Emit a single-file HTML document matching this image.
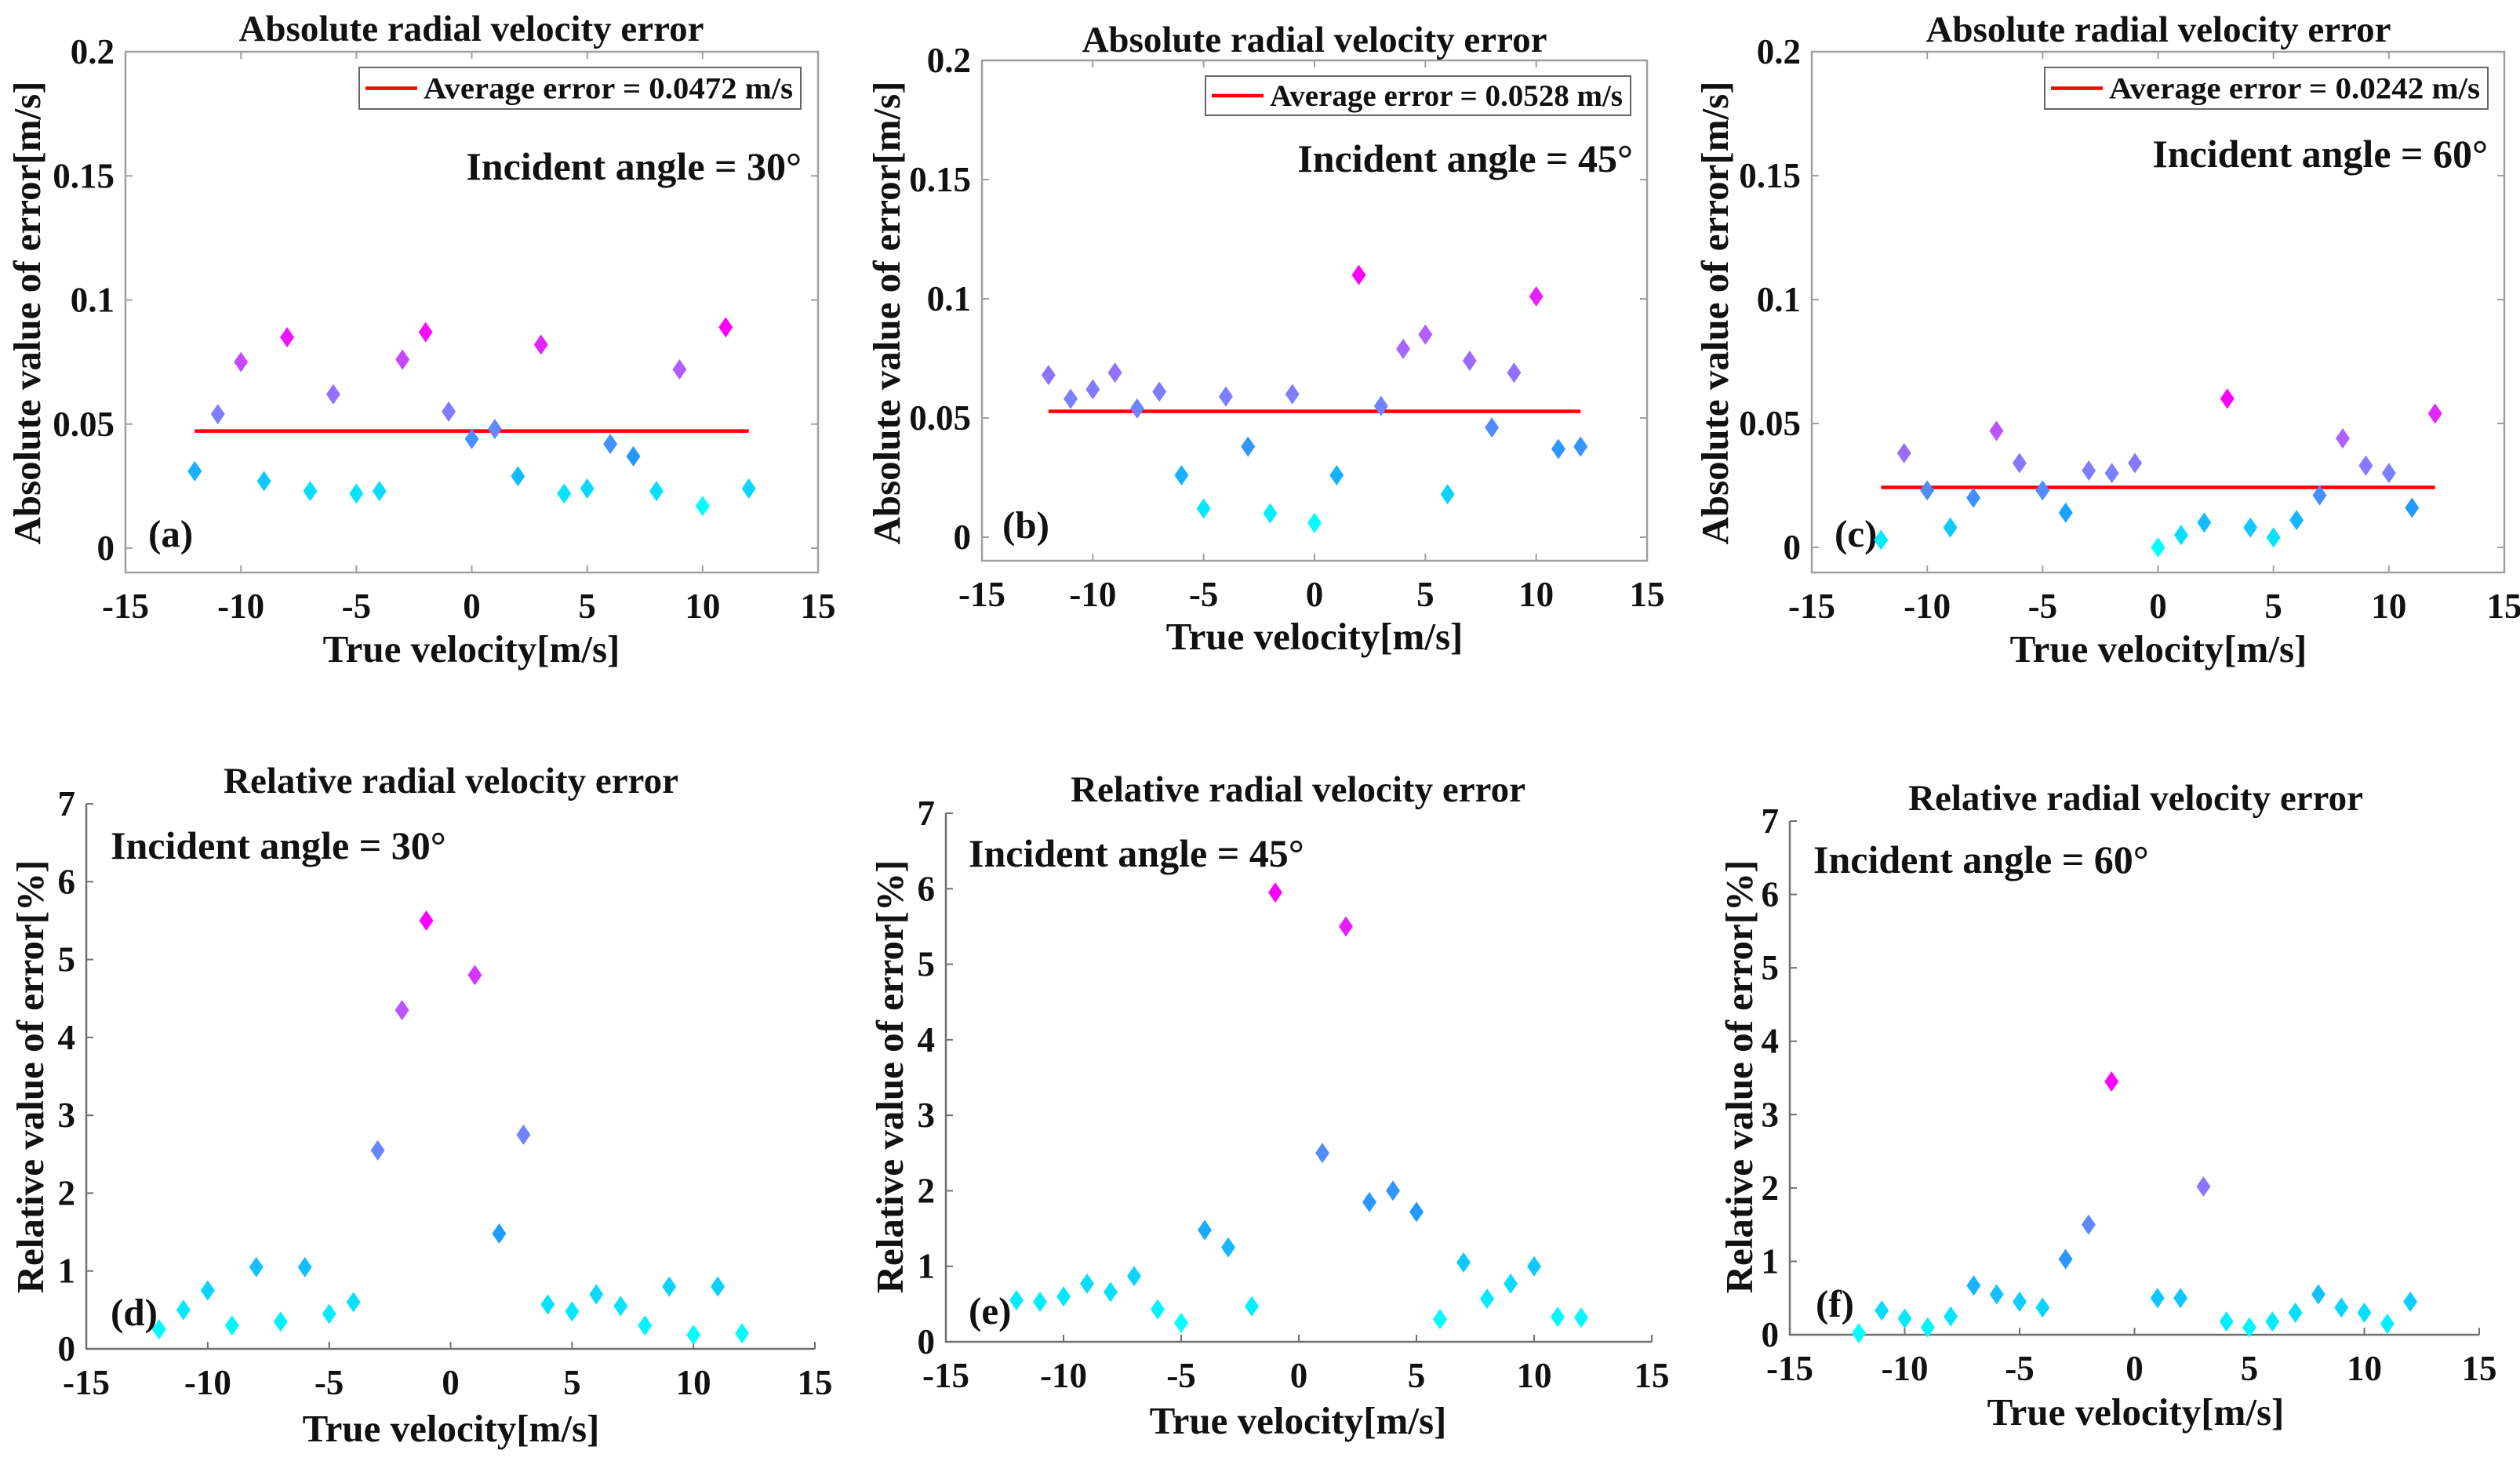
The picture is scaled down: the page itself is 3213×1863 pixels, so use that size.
<!DOCTYPE html>
<html><head><meta charset="utf-8">
<style>
html,body{margin:0;padding:0;background:#fff;}
svg{display:block;}
svg text{font-family:"Liberation Serif","DejaVu Serif",serif;font-weight:bold;}
</style></head>
<body>
<svg id="fig" width="3213" height="1863" viewBox="0 0 3213 1863" xmlns="http://www.w3.org/2000/svg"></svg>
<script>
const velocities = [-12,-11,-10,-9,-8,-7,-6,-5,-4,-3,-2,-1,0,1,2,3,4,5,6,7,8,9,10,11,12];
const velocitiesNoZero = [-12,-11,-10,-9,-8,-7,-6,-5,-4,-3,-2,-1,1,2,3,4,5,6,7,8,9,10,11,12];
const absErr30 = [0.031,0.054,0.075,0.027,0.085,0.023,0.062,0.022,0.023,0.076,0.087,0.055,0.044,0.048,0.029,0.082,0.022,0.024,0.042,0.037,0.023,0.072,0.017,0.089,0.024];
const absErr45 = [0.068,0.058,0.062,0.069,0.054,0.061,0.026,0.012,0.059,0.038,0.010,0.060,0.006,0.026,0.110,0.055,0.079,0.085,0.018,0.074,0.046,0.069,0.101,0.037,0.038];
const absErr60 = [0.003,0.038,0.023,0.008,0.020,0.047,0.034,0.023,0.014,0.031,0.030,0.034,0.000,0.005,0.010,0.060,0.008,0.004,0.011,0.021,0.044,0.033,0.030,0.016,0.054];
const avgErr = [0.0472,0.0528,0.0242];
const relErr30 = [0.25,0.5,0.75,0.3,1.05,0.35,1.05,0.45,0.6,2.55,4.35,5.5,4.8,1.48,2.75,0.57,0.48,0.7,0.55,0.3,0.8,0.18,0.8,0.2];
const relErr45 = [0.55,0.53,0.6,0.77,0.66,0.87,0.43,0.25,1.48,1.25,0.47,5.95,2.5,5.5,1.85,2.0,1.72,0.3,1.05,0.57,0.77,1.0,0.33,0.32];
const relErr60 = [0.02,0.33,0.22,0.1,0.25,0.67,0.55,0.45,0.37,1.03,1.5,3.45,0.5,0.5,2.02,0.18,0.1,0.18,0.3,0.55,0.37,0.3,0.15,0.45];
const xTicks = [-15,-10,-5,0,5,10,15];
const absYTicks = [0,0.05,0.1,0.15,0.2];
const absYLabels = ["0","0.05","0.1","0.15","0.2"];
const relYTicks = [0,1,2,3,4,5,6,7];
const angles = ["30","45","60"];

const NS = "http://www.w3.org/2000/svg";
const FF = "'Liberation Serif', 'DejaVu Serif', serif";
const svg = document.getElementById("fig");
function mk(tag, attrs, parent, text){
  const e = document.createElementNS(NS, tag);
  for (const k in attrs) e.setAttribute(k, attrs[k]);
  if (tag === "text") { e.setAttribute("font-family", FF); e.setAttribute("font-weight","bold"); }
  if (text !== undefined) e.textContent = text;
  (parent||svg).appendChild(e);
  return e;
}
function lerp(a,b,t){return a+(b-a)*t;}
const stops=[[0,[0,255,255]],[0.25,[30,155,255]],[0.5,[122,128,255]],[0.75,[176,96,255]],[1,[255,0,255]]];
function colorFor(t){
  t=Math.max(0,Math.min(1,t));
  for(let i=1;i<stops.length;i++){
    if(t<=stops[i][0]){
      const u=(t-stops[i-1][0])/(stops[i][0]-stops[i-1][0]);
      const a=stops[i-1][1],b=stops[i][1];
      return `rgb(${Math.round(lerp(a[0],b[0],u))},${Math.round(lerp(a[1],b[1],u))},${Math.round(lerp(a[2],b[2],u))})`;
    }
  }
  return "rgb(255,0,255)";
}

const panels = [
 {id:"a",type:"abs",xs:velocities,ys:absErr30,avg:avgErr[0],angle:angles[0],x0:160,x1:1043,yZ:699,yT:66,ymax:0.2,boxTop:66,boxBot:730,
  title:[601,36],xl:[601,828],yl:[34,399],leg:[458,86,1021,139],inc:[1022,212],tag:[189,680]},
 {id:"b",type:"abs",xs:velocities,ys:absErr45,avg:avgErr[1],angle:angles[1],x0:1252,x1:2100,yZ:685,yT:77,ymax:0.2,boxTop:77,boxBot:715,
  title:[1676,50],xl:[1676,812],yl:[1130,399],leg:[1537,97,2079,147],inc:[2082,202],tag:[1278,669]},
 {id:"c",type:"abs",xs:velocities,ys:absErr60,avg:avgErr[2],angle:angles[2],x0:2310,x1:3193,yZ:698,yT:66,ymax:0.2,boxTop:66,boxBot:730,
  title:[2752,37],xl:[2752,828],yl:[2186,399],leg:[2607,86,3172,139],inc:[3172,196],tag:[2339,680]},
 {id:"d",type:"rel",xs:velocitiesNoZero,ys:relErr30,angle:angles[0],x0:110,x1:1039,yZ:1720,yT:1025,ymax:7,
  title:[575,995],xl:[575,1822],yl:[38,1373],inc:[141,1078],tag:[141,1673]},
 {id:"e",type:"rel",xs:velocitiesNoZero,ys:relErr45,angle:angles[1],x0:1206,x1:2106,yZ:1711,yT:1037,ymax:7,
  title:[1655,1006],xl:[1655,1812],yl:[1134,1373],inc:[1235,1088],tag:[1235,1671]},
 {id:"f",type:"rel",xs:velocitiesNoZero,ys:relErr60,angle:angles[2],x0:2282,x1:3161,yZ:1702,yT:1047,ymax:7,
  title:[2723,1017],xl:[2723,1801],yl:[2217,1373],inc:[2312,1096],tag:[2315,1662]}
];

panels.forEach(p=>{
  const g = mk("g",{});
  
  
  const sx = v => p.x0 + (v+15)/30*(p.x1-p.x0);
  const sy = v => p.yZ - v/p.ymax*(p.yZ-p.yT);
  const isAbs = p.type==="abs";
  const axCol = isAbs ? "#a0a0a0" : "#707070";
  const bottom = isAbs ? p.boxBot : p.yZ;
  const top = isAbs ? p.boxTop : p.yT;
  if(isAbs){
    const box = mk("rect",{x:p.x0,y:top,width:p.x1-p.x0,height:bottom-top,fill:"none",stroke:axCol,"stroke-width":2.5},g);
    
    
  } else {
    const ax = mk("path",{d:`M${p.x0},${top}V${bottom}H${p.x1}`,fill:"none",stroke:axCol,"stroke-width":2.5},g);
    
    
  }
  xTicks.forEach(t=>{
    const x=sx(t);
    mk("line",{x1:x,y1:bottom,x2:x,y2:bottom-9,stroke:axCol,"stroke-width":2},g);
    if(isAbs) mk("line",{x1:x,y1:top,x2:x,y2:top+9,stroke:axCol,"stroke-width":2},g);
    const lb = mk("text",{x:x,y:bottom+58,"font-size":45,"text-anchor":"middle",fill:"#111"},g,String(t));
    
    
  });
  const yt = isAbs ? absYTicks : relYTicks;
  yt.forEach((t,i)=>{
    const y=sy(t);
    mk("line",{x1:p.x0,y1:y,x2:p.x0+9,y2:y,stroke:axCol,"stroke-width":2},g);
    if(isAbs) mk("line",{x1:p.x1,y1:y,x2:p.x1-9,y2:y,stroke:axCol,"stroke-width":2},g);
    const lb = mk("text",{x:p.x0-14,y:y+15,"font-size":45,"text-anchor":"end",fill:"#111"},g,isAbs?absYLabels[i]:String(t));
    
    
  });
  const ti = mk("text",{x:p.title[0],y:p.title[1]+16,"font-size":47,"text-anchor":"middle",fill:"#111"},g,
     isAbs?"Absolute radial velocity error":"Relative radial velocity error");
  
  
  const xl = mk("text",{x:p.xl[0],y:p.xl[1]+16,"font-size":49,"text-anchor":"middle",fill:"#111"},g,"True velocity[m/s]");
  
  
  const yl = mk("text",{x:0,y:0,"font-size":49,"text-anchor":"middle",fill:"#111",
     transform:`translate(${p.yl[0]+17},${p.yl[1]}) rotate(-90)`},g,
     isAbs?"Absolute value of error[m/s]":"Relative value of error[%]");
  
  
  const inc = mk("text",{x:p.inc[0],y:p.inc[1]+17,"font-size":50,"text-anchor":isAbs?"end":"start",fill:"#111"},g,
     "Incident angle = "+p.angle+"°");
  
  
  const tg = mk("text",{x:p.tag[0],y:p.tag[1]+17,"font-size":49,fill:"#111"},g,"("+p.id+")");
  
  
  if(isAbs){
    const al = mk("line",{x1:sx(-12),x2:sx(12),y1:sy(p.avg),y2:sy(p.avg),stroke:"#ff0000","stroke-width":4.5},g);
    
    
    const L=p.leg;
    const lg = mk("g",{},g);
    
    
    mk("rect",{x:L[0],y:L[1],width:L[2]-L[0],height:L[3]-L[1],fill:"#fff",stroke:"#666","stroke-width":2},lg);
    const my=(L[1]+L[3])/2;
    mk("line",{x1:L[0]+8,x2:L[0]+74,y1:my,y2:my,stroke:"#ff0000","stroke-width":4.5},lg);
    const lt = mk("text",{x:L[2]-10,y:my+13,"font-size":39,"text-anchor":"end",fill:"#111",
      textLength:(L[2]-L[0]-92),lengthAdjust:"spacingAndGlyphs"},lg,
      "Average error = "+p.avg.toFixed(4)+" m/s");
    
    
  }
  const mn=Math.min(...p.ys), mx=Math.max(...p.ys);
  p.ys.forEach((v,i)=>{
    const x=sx(p.xs[i]), y=sy(v);
    const d = mk("path",{d:`M${x},${y-13}L${x+9},${y}L${x},${y+13}L${x-9},${y}Z`,fill:colorFor((v-mn)/(mx-mn))},g);
    
    
  });
});
</script>
</body></html>
